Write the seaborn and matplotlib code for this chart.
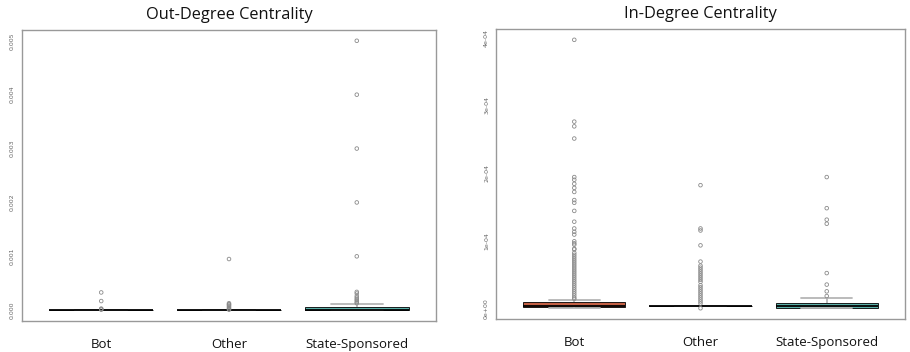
import matplotlib
matplotlib.use("Agg")
import matplotlib.pyplot as plt
import seaborn as sns
import pandas as pd

# ---------------- data ----------------
groups = ["Bot", "Other", "State-Sponsored"]

# box-defining values (min, Q1, median, Q3, upper whisker)
bot_out_core = [0.0, 0.0, 0.0, 0.0, 0.0]
other_out_core = [0.0, 0.0, 0.0, 0.0, 0.0]
state_out_core = [0.0, 0.0, 0.0, 0.00006, 0.00011]

bot_out_fliers = [0.00033, 0.00017, 0.00003, 0.00002, 0.00001]
other_out_fliers = [0.00095, 0.00013, 0.00011, 0.0001, 0.00008, 0.00006,
                    0.00004, 0.00002, 0.00001]
state_out_fliers = [0.005, 0.004, 0.003, 0.002, 0.001, 0.00034, 0.00031,
                    0.00026, 0.00023, 0.0002, 0.00018, 0.00015, 0.00013]

bot_in_core = [0.0, 0.0000025, 0.000004, 0.000009, 0.000012]
other_in_core = [0.0000034, 0.0000034, 0.0000034, 0.0000034, 0.0000034]
state_in_core = [0.0, 0.0000002, 0.000004, 0.0000078, 0.000015]

bot_in_fliers = [3.97e-4, 2.76e-4, 2.69e-4, 2.51e-4, 1.94e-4, 1.90e-4, 1.84e-4,
                 1.78e-4, 1.72e-4, 1.60e-4, 1.56e-4, 1.44e-4, 1.28e-4, 1.18e-4,
                 1.13e-4, 1.09e-4, 9.9e-5, 9.6e-5, 9.4e-5, 8.8e-5, 8.7e-5,
                 8.2e-5, 7.9e-5, 7.6e-5, 7.3e-5, 7.0e-5, 6.7e-5, 6.4e-5, 6.1e-5,
                 5.8e-5, 5.5e-5, 5.2e-5, 4.9e-5, 4.6e-5, 4.3e-5, 4.0e-5, 3.7e-5,
                 3.4e-5, 3.1e-5, 2.8e-5, 2.5e-5, 2.2e-5, 1.9e-5, 1.6e-5, 1.4e-5]
other_in_fliers = [1.82e-4, 1.18e-4, 1.15e-4, 9.3e-5, 6.9e-5, 6.3e-5, 6.0e-5,
                   5.7e-5, 5.4e-5, 5.1e-5, 4.8e-5, 4.5e-5, 4.2e-5, 3.9e-5,
                   3.4e-5, 3.1e-5, 2.8e-5, 2.5e-5, 2.2e-5, 1.9e-5, 1.6e-5,
                   1.3e-5, 1.0e-5, 7e-6, 0.0]
state_in_fliers = [1.94e-4, 1.48e-4, 1.31e-4, 1.25e-4, 5.2e-5, 3.5e-5, 2.5e-5, 1.8e-5]

out_ticks = [0.0, 0.001, 0.002, 0.003, 0.004, 0.005]
out_tick_labels = ["0.000", "0.001", "0.002", "0.003", "0.004", "0.005"]
in_ticks = [0.0, 1e-4, 2e-4, 3e-4, 4e-4]
in_tick_labels = ["0e+00", "1e-04", "2e-04", "3e-04", "4e-04"]

titles = ["Out-Degree Centrality", "In-Degree Centrality"]


def frame(cores, fliers_list):
    core_rows, flier_rows = [], []
    for g, c, f in zip(groups, cores, fliers_list):
        core_rows += [(g, v) for v in c]
        flier_rows += [(g, v) for v in f]
    return (pd.DataFrame(core_rows, columns=["group", "value"]),
            pd.DataFrame(flier_rows, columns=["group", "value"]))


out_core, out_fl = frame([bot_out_core, other_out_core, state_out_core],
                         [bot_out_fliers, other_out_fliers, state_out_fliers])
in_core, in_fl = frame([bot_in_core, other_in_core, state_in_core],
                       [bot_in_fliers, other_in_fliers, state_in_fliers])

palette = {"Bot": "#D9542F", "Other": "#8a8a8a", "State-Sponsored": "#4DBDB3"}

# ---------------- figure ----------------
sns.set_style("white")
plt.rcParams["font.family"] = ["Open Sans", "DejaVu Sans"]

fig = plt.figure(figsize=(9.10, 3.52), dpi=100)
ax1 = fig.add_axes([22 / 910, 1 - 321 / 352, 414 / 910, 291 / 352])
ax2 = fig.add_axes([496 / 910, 1 - 319 / 352, 409 / 910, 290 / 352])

specs = [
    (ax1, out_core, out_fl, out_ticks, out_tick_labels, (-0.0002, 0.0052)),
    (ax2, in_core, in_fl, in_ticks, in_tick_labels, (-1.59e-5, 4.13e-4)),
]

for i, (ax, core, fl, ticks, tlabels, ylim) in enumerate(specs):
    sns.boxplot(data=core, x="group", y="value", order=groups, hue="group",
                hue_order=groups, palette=palette, legend=False,
                whis=(0, 100), showfliers=False, width=0.81,
                linecolor="black", linewidth=0.6, ax=ax,
                medianprops=dict(color="black", linewidth=1.3),
                whiskerprops=dict(color="#aaaaaa", linewidth=1.1),
                capprops=dict(color="#b5b5b5", linewidth=1.3))
    sns.stripplot(data=fl, x="group", y="value", order=groups, jitter=False,
                  color="white", edgecolor="#8a8a8a", linewidth=0.6, size=2.6,
                  ax=ax, zorder=5)
    for coll in ax.collections:
        try:
            coll.set_facecolor("none")
        except Exception:
            pass
    ax.set_xlim(-0.62, 2.62)
    ax.set_ylim(*ylim)
    ax.set_yticks(ticks)
    ax.set_yticklabels(tlabels, rotation=90, va="center", fontsize=4.5,
                       color="#666666", family="DejaVu Sans")
    ax.set_xticks(range(len(groups)))
    ax.set_xticklabels(groups, fontsize=9.5, color="#111111")
    ax.tick_params(axis="y", length=2.5, width=0.6, color="#777777", pad=2.5)
    ax.tick_params(axis="x", length=2.5, width=0.6, color="#777777", pad=10)
    ax.set_xlabel("")
    ax.set_ylabel("")
    for s in ax.spines.values():
        s.set_color("#999999")
        s.set_linewidth(1.0)
    ax.set_title(titles[i], fontsize=11.8, pad=8, color="#111111")

fig.savefig("out.png", dpi=100)
